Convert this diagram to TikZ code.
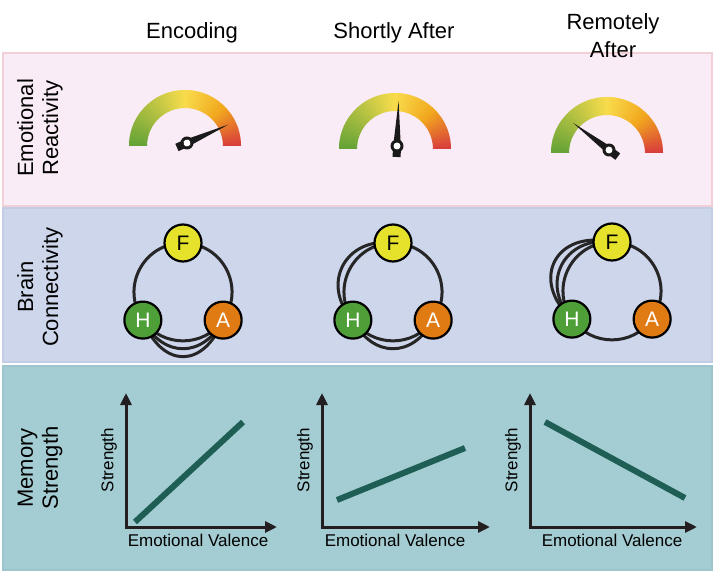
\documentclass[tikz,border=0pt]{standalone}
\usepackage{fontspec}
\setmainfont{Liberation Sans}
\usetikzlibrary{arrows.meta,backgrounds}
\definecolor{pinkfill}{HTML}{F9ECF6}
\definecolor{pinkline}{HTML}{F3D0D6}
\definecolor{bluefill}{HTML}{CED6EC}
\definecolor{blueline}{HTML}{C4CDE8}
\definecolor{tealfill}{HTML}{A4CDD3}
\definecolor{tealline}{HTML}{9CC6CC}
\definecolor{gaugegreen}{HTML}{62A236}
\definecolor{gaugeyellow}{HTML}{F8DC4C}
\definecolor{gaugeorange}{HTML}{F2A81E}
\definecolor{gaugered}{HTML}{D83C3C}
\definecolor{needlecol}{HTML}{1A1A1A}
\definecolor{linkgray}{HTML}{262626}
\definecolor{fregion}{HTML}{E6E22C}
\definecolor{hregion}{HTML}{4E9F38}
\definecolor{aregion}{HTML}{E07B14}
\definecolor{axisgray}{HTML}{231F20}
\definecolor{trendgreen}{HTML}{1E5E55}
\tikzset{>=stealth}

\begin{document}
\begin{tikzpicture}[x=1pt, y=1pt,
    header/.style={font=\fontsize{22}{28}\selectfont, align=center},
    rowlabel/.style={font=\fontsize{22}{25}\selectfont, align=center, rotate=90},
    region/.style={circle, draw=black, line width=2.2pt, minimum size=37pt, inner sep=0pt, font=\fontsize{21}{21}\selectfont},
    link/.style={line width=3pt, draw=linkgray},
    axis/.style={line width=3pt, draw=axisgray, {Triangle[length=12pt,width=11pt]}-{Triangle[length=12pt,width=11pt]}},
    trend/.style={line width=6pt, draw=trendgreen},
    axislabel/.style={font=\fontsize{17}{17}\selectfont}]
\useasboundingbox (0,0) rectangle (715,574);

\begin{scope}[on background layer]
  \filldraw[fill=pinkfill, draw=pinkline, line width=1.5pt] (3,368) rectangle (712,521);
  \filldraw[fill=bluefill, draw=blueline, line width=1.5pt] (3,212) rectangle (712,366);
  \filldraw[fill=tealfill, draw=tealline, line width=1.5pt] (3,4) rectangle (712,208);
\end{scope}

\node[header] (enc) at (192,541) {Encoding};
\node[header] (sho) at (394,541) {Shortly After};
\node[header] (rem) at (613,538) {Remotely\\After};

\node[rowlabel] (emo) at (40,446) {Emotional\\Reactivity};
\node[rowlabel] (bra) at (40,287) {Brain\\Connectivity};
\node[rowlabel] (mem) at (40,106) {Memory\\Strength};

\foreach \gx/\gy/\gn in {185/428/24, 395/425/88, 607/421/143} {
  \foreach \a in {0,2,...,178} {
    \ifnum\a<45
      \pgfmathtruncatemacro\p{(\a+1)/45*100}
      \colorlet{arcfill}{gaugeorange!\p!gaugered}
    \else\ifnum\a<90
      \pgfmathtruncatemacro\p{(\a+1-45)/45*100}
      \colorlet{arcfill}{gaugeyellow!\p!gaugeorange}
    \else
      \pgfmathtruncatemacro\p{(\a+1-90)/90*100}
      \colorlet{arcfill}{gaugegreen!\p!gaugeyellow}
    \fi\fi
    \pgfmathsetmacro\b{min(\a+2.6,180)}
    \fill[arcfill, shift={(\gx,\gy)}] (\a:38) -- (\a:56) arc[start angle=\a, end angle=\b, radius=56]
      -- (\b:38) arc[start angle=\b, end angle=\a, radius=38] -- cycle;
  }
  \begin{scope}[shift={(\gx+2,\gy+3)}, rotate=\gn]
    \fill[needlecol] (-11,-4) rectangle (0,4);
    \fill[needlecol] (0,-3.8) -- (45,0) -- (0,3.8) -- cycle;
    \fill[needlecol] (0,0) circle (6.5);
    \fill[white] (0,0) circle (3.5);
  \end{scope}
}

\foreach \cx/\cy/\k in {183/282/1, 393/282/2, 612/283/3} {
  \node[region, fill=fregion] (F\k) at ([shift={(90:49)}]\cx,\cy) {F};
  \node[region, fill=hregion, text=white] (H\k) at ([shift={(215:49)}]\cx,\cy) {H};
  \node[region, fill=aregion, text=white] (A\k) at ([shift={(325:49)}]\cx,\cy) {A};
}

\begin{scope}[on background layer]
  \foreach \k in {1,2,3} {
    \draw[link] (F\k.center) to[bend right=62, looseness=1.17] (H\k.center);
    \draw[link] (H\k.center) to[bend right=55, looseness=1.08] (A\k.center);
    \draw[link] (A\k.center) to[bend right=62, looseness=1.17] (F\k.center);
  }
  \draw[link] (H1.center) to[bend right=62, looseness=1.38] (A1.center);
  \draw[link] (H1.center) to[bend right=68, looseness=1.68] (A1.center);
  \draw[link] (F2.center) to[bend right=70, looseness=1.42] (H2.center);
  \draw[link] (H2.center) to[bend right=62, looseness=1.38] (A2.center);
  \draw[link] (F3.center) to[bend right=70, looseness=1.42] (H3.center);
  \draw[link] (F3.center) to[bend right=75, looseness=1.7] (H3.center);
\end{scope}

\foreach \ox/\xt/\lx/\sa/\sb/\ea/\eb/\k in {126/277/198/135/52/243/152/1, 322/490/395/337/74/465/126/2, 530/697/612/545/152/685/76/3} {
  \coordinate (o\k) at (\ox,47);
  \coordinate (ytip\k) at (\ox,181);
  \coordinate (xtip\k) at (\xt,47);
  \coordinate (ts\k) at (\sa,\sb);
  \coordinate (te\k) at (\ea,\eb);
  \draw[axis] (ytip\k) -- (o\k) -- (xtip\k);
  \draw[trend] (ts\k) -- (te\k);
  \node[axislabel] (val\k) at (\lx,34) {Emotional Valence};
  \node[axislabel, rotate=90] (str\k) at (\ox-17,114) {Strength};
}
\end{tikzpicture}
\end{document}
